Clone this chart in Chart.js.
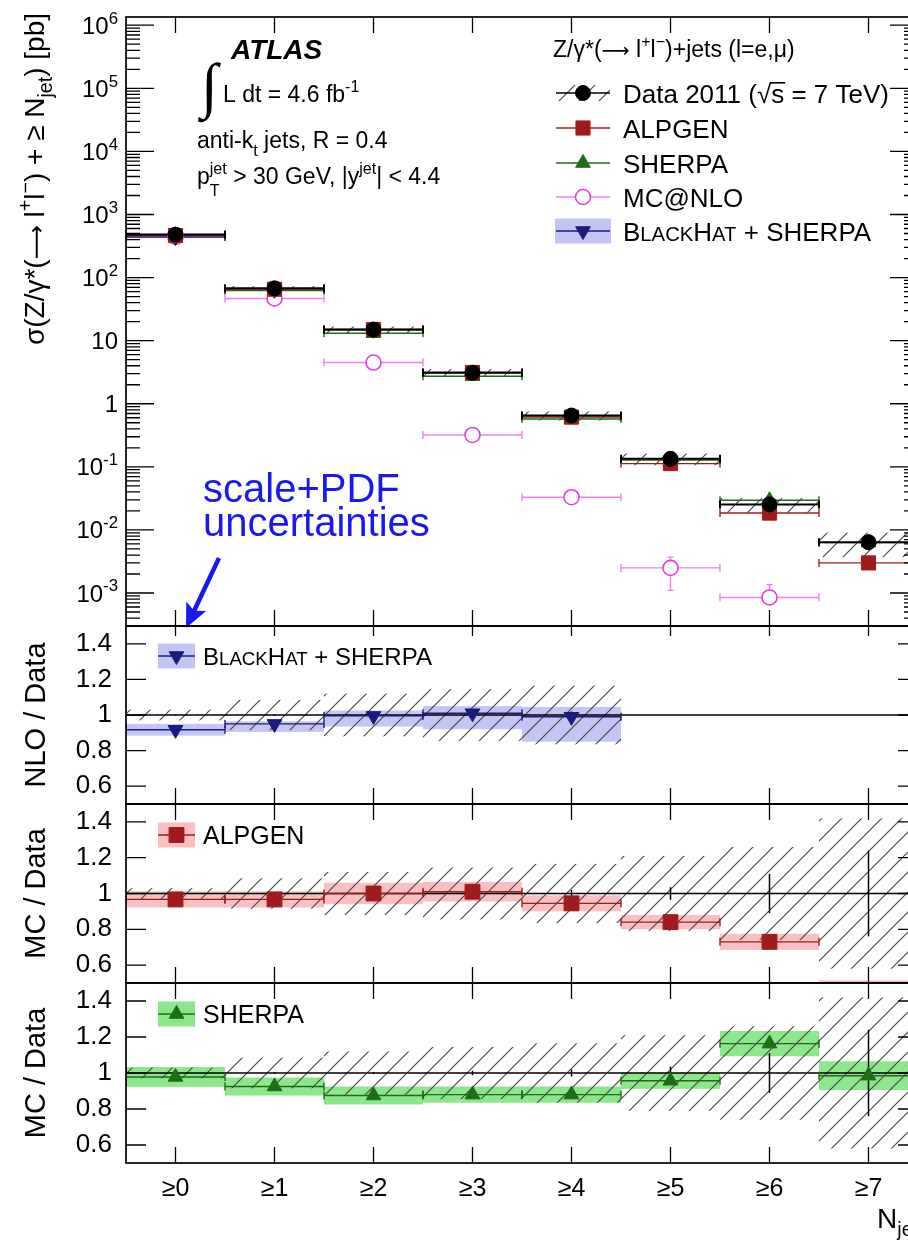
<!DOCTYPE html>
<html>
<head>
<meta charset="utf-8">
<title>Z/γ* + jets inclusive jet multiplicity</title>
<script src="https://cdn.jsdelivr.net/npm/chart.js@4.4.1/dist/chart.umd.min.js"></script>
<style>
  html, body { margin: 0; padding: 0; background: #fff; overflow: hidden; }
  #plot { position: relative; width: 930px; height: 1241px; }
  #plot canvas { position: absolute; left: 0; top: 0; }
</style>
</head>
<body>
<div id="plot">
  <canvas id="xsec" width="930" height="1241"></canvas>
  <canvas id="nlo" width="930" height="1241"></canvas>
  <canvas id="alpgen" width="930" height="1241"></canvas>
  <canvas id="sherpa" width="930" height="1241"></canvas>
</div>
<script>
// ── Jet multiplicity bins ─────────────────────────────────────────────────────
const NJET_LABELS = ['≥0', '≥1', '≥2', '≥3', '≥4', '≥5', '≥6', '≥7'];

// ── σ(Z/γ* + ≥ Njet) in pb ────────────────────────────────────────────────────
const DATA_XS     = [480, 67.5, 15.0, 3.1, 0.65, 0.134, 0.0254, 0.0064];
const DATA_SYST   = [0.03, 0.085, 0.12, 0.145, 0.165, 0.21, 0.26, 0.42];    // relative, hatched
const DATA_STAT   = [0.002, 0.004, 0.006, 0.012, 0.02, 0.035, 0.11, 0.24];  // relative, error bar
const ALPGEN_XS   = [464, 65.3, 15.0, 3.13, 0.614, 0.1126, 0.0185, 0.0030];
const SHERPA_XS   = [469, 62.4, 13.1, 2.73, 0.572, 0.128, 0.0295, 0.0063];
const MCNLO_XS    = [440, 46.6, 4.5, 0.32, 0.033, 0.0025, 0.00085];
const MCNLO_UP    = [0, 0, 0, 0, 0, 0.0012, 0.0005];
const MCNLO_DN    = [0, 0, 0, 0, 0, 0.0014, 0.0001];
const BLACKHAT_XS = [440, 64.1, 14.9, 3.13, 0.644];

// ── Prediction / data ─────────────────────────────────────────────────────────
const BLACKHAT_RATIO = [0.917, 0.95, 0.995, 1.01, 0.99];
const BLACKHAT_UP    = [0.033, 0.015, 0.03, 0.04, 0.055];
const BLACKHAT_DN    = [0.033, 0.045, 0.06, 0.09, 0.14];
const ALPGEN_RATIO   = [0.967, 0.967, 1.0, 1.01, 0.945, 0.84, 0.73, 0.47];
const ALPGEN_BAND    = [0.045, 0.045, 0.06, 0.055, 0.045, 0.04, 0.045, 0.045];
const SHERPA_RATIO   = [0.978, 0.925, 0.875, 0.88, 0.88, 0.957, 1.163, 0.985];
const SHERPA_BAND    = [0.055, 0.05, 0.05, 0.045, 0.045, 0.045, 0.07, 0.08];

// ── Axis ticks ────────────────────────────────────────────────────────────────
const LOG_DECADES = [-3, -2, -1, 0, 1, 2, 3, 4, 5, 6];
const RATIO_TICKS = [0.6, 0.8, 1.0, 1.2, 1.4];

// ── Layout ────────────────────────────────────────────────────────────────────
const W = 930, H = 1241;
const LEFT = 126, RIGHT = 918;
const FONT = '"Liberation Sans", Arial, Helvetica, sans-serif';
const SYMBOL_FONT = '"DejaVu Sans", sans-serif';

const COL = {
  alpgen: '#a01c1c', alpgenBand: 'rgba(238,105,105,0.42)',
  sherpa: '#1d6e16', sherpaBand: 'rgba(70,215,70,0.62)',
  mcnlo: '#e03ee0', mcnloLine: '#ee80ee',
  blackhat: '#1b1b7e', blackhatBand: 'rgba(115,115,230,0.42)',
  hatch: '#4a4a4a', note: '#1818f2',
};

// ── Drawing helpers ───────────────────────────────────────────────────────────
const HATCH = (() => {
  const t = document.createElement('canvas');
  t.width = t.height = 20;
  const c = t.getContext('2d');
  c.strokeStyle = COL.hatch; c.lineWidth = 1.2;
  c.beginPath();
  c.moveTo(-2, 22); c.lineTo(22, -2);
  c.moveTo(-2, 2); c.lineTo(2, -2);
  c.moveTo(18, 22); c.lineTo(22, 18);
  c.stroke();
  return t;
})();

const txt = t => ({ t });
const sup = (t, dy = -0.42) => ({ t, k: 0.7, dy });
const sub = (t, dy = 0.3) => ({ t, k: 0.7, dy });
const arrow = (k = 1) => ({ t: '⟶', k, f: SYMBOL_FONT });

function fontOf(p, size) {
  return `${p.w || ''} ${Math.round(size * (p.k || 1) * 10) / 10}px ${p.f || FONT}`;
}
function partWidth(ctx, p, size) {
  ctx.font = fontOf(p, size);
  let w = ctx.measureText(p.t).width;
  if (p.lo) w = Math.max(w, ctx.measureText(p.lo).width);
  return w;
}
// text runs with super/subscripts, y is the baseline
function drawRich(ctx, parts, x, y, size, align = 'left') {
  const widths = parts.map(p => partWidth(ctx, p, size));
  const total = widths.reduce((s, w) => s + w, 0);
  let cx = align === 'right' ? x - total : align === 'center' ? x - total / 2 : x;
  ctx.textAlign = 'left';
  ctx.textBaseline = 'alphabetic';
  parts.forEach((p, i) => {
    ctx.font = fontOf(p, size);
    ctx.fillText(p.t, cx, y + (p.dy || 0) * size);
    if (p.lo) ctx.fillText(p.lo, cx, y + p.loDy * size);
    cx += widths[i];
  });
  return total;
}

function binEdges(xs, i) {
  return [xs.getPixelForValue(i - 0.5), xs.getPixelForValue(i + 0.5)];
}
function hatchRect(ctx, x0, x1, y0, y1) {
  ctx.save();
  ctx.fillStyle = ctx.createPattern(HATCH, 'repeat');
  ctx.fillRect(x0, Math.min(y0, y1), x1 - x0, Math.abs(y1 - y0));
  ctx.restore();
}
function hBar(ctx, color, lw, x0, x1, y, cap = 4) {
  ctx.save();
  ctx.strokeStyle = color; ctx.lineWidth = lw;
  ctx.beginPath();
  ctx.moveTo(x0, y); ctx.lineTo(x1, y);
  if (cap) {
    ctx.moveTo(x0, y - cap); ctx.lineTo(x0, y + cap);
    ctx.moveTo(x1, y - cap); ctx.lineTo(x1, y + cap);
  }
  ctx.stroke();
  ctx.restore();
}
function vBar(ctx, color, lw, x, y0, y1, cap = 0) {
  ctx.save();
  ctx.strokeStyle = color; ctx.lineWidth = lw;
  ctx.beginPath();
  ctx.moveTo(x, y0); ctx.lineTo(x, y1);
  if (cap) {
    ctx.moveTo(x - cap, y0); ctx.lineTo(x + cap, y0);
    ctx.moveTo(x - cap, y1); ctx.lineTo(x + cap, y1);
  }
  ctx.stroke();
  ctx.restore();
}
function clipArea(ctx, a) {
  ctx.beginPath();
  ctx.rect(a.left, a.top, a.right - a.left, a.bottom - a.top);
  ctx.clip();
}
function marker(ctx, style, color, fill, radius, x, y, rotation = 0, bw = 1) {
  ctx.save();
  ctx.fillStyle = fill; ctx.strokeStyle = color; ctx.lineWidth = bw;
  Chart.helpers.drawPoint(ctx, { pointStyle: style, radius, rotation, borderWidth: bw }, x, y);
  ctx.restore();
}

// frame plus inward ticks on all four sides
function frameAndTicks(chart, o) {
  const { ctx, chartArea: a, scales: { x, y } } = chart;
  ctx.save();
  ctx.strokeStyle = '#000';
  ctx.lineWidth = 1.3;
  ctx.beginPath();
  NJET_LABELS.forEach((_, i) => {
    const px = x.getPixelForValue(i);
    ctx.moveTo(px, a.bottom); ctx.lineTo(px, a.bottom - o.xBottom);
    ctx.moveTo(px, a.top); ctx.lineTo(px, a.top + o.xTop);
  });
  o.major.forEach(v => {
    const py = y.getPixelForValue(v);
    ctx.moveTo(a.left, py); ctx.lineTo(a.left + o.majorLen, py);
    ctx.moveTo(a.right, py); ctx.lineTo(a.right - o.majorLen, py);
  });
  (o.minor || []).forEach(v => {
    const py = y.getPixelForValue(v);
    ctx.moveTo(a.left, py); ctx.lineTo(a.left + o.minorLen, py);
    ctx.moveTo(a.right, py); ctx.lineTo(a.right - o.minorLen, py);
  });
  ctx.stroke();
  ctx.lineWidth = 1.7;
  ctx.strokeRect(a.left, a.top, a.right - a.left, a.bottom - a.top);
  ctx.restore();
}

function rotatedTitle(ctx, parts, x, y, size, align) {
  ctx.save();
  ctx.translate(x, y);
  ctx.rotate(-Math.PI / 2);
  ctx.fillStyle = '#000';
  drawRich(ctx, parts, 0, 0, size, align);
  ctx.restore();
}

// ── Chart factory ─────────────────────────────────────────────────────────────
const pts = vals => vals.map((v, i) => ({ x: i, y: v }));
const ratioPts = vals => pts(vals).filter(p => p.y >= 0.5 && p.y <= 1.5);

function markers(label, data, style, color, radius, extra = {}) {
  return Object.assign({
    label, data, pointStyle: style, pointRadius: radius, pointHoverRadius: radius,
    backgroundColor: color, borderColor: color, pointBorderWidth: 1,
  }, extra);
}

function panelChart(id, top, bottom, yScale, datasets, plugin, showX) {
  return new Chart(document.getElementById(id), {
    type: 'scatter',
    data: { datasets },
    options: {
      responsive: false,
      animation: false,
      events: [],
      layout: {
        padding: { left: yScale.display ? 0 : LEFT, right: W - RIGHT, top, bottom: showX ? 0 : H - bottom },
      },
      plugins: { legend: { display: false }, tooltip: { enabled: false } },
      scales: {
        x: {
          type: 'linear', min: -0.5, max: 7.5, display: showX,
          grid: { display: false }, border: { display: false },
          afterBuildTicks: s => { s.ticks = NJET_LABELS.map((_, i) => ({ value: i })); },
          afterFit: s => { if (showX) s.height = H - bottom; },
          ticks: {
            color: '#000', padding: 3, maxRotation: 0, autoSkip: false,
            font: { family: FONT, size: 25 },
            callback: v => NJET_LABELS[Math.round(v)],
          },
        },
        y: yScale,
      },
    },
    plugins: [plugin],
  });
}

function ratioY() {
  return {
    type: 'linear', min: 0.5, max: 1.5, display: true,
    grid: { display: false }, border: { display: false },
    afterBuildTicks: s => { s.ticks = RATIO_TICKS.map(v => ({ value: v })); },
    afterFit: s => { s.width = LEFT; },
    ticks: { color: '#000', padding: 6, font: { family: FONT, size: 26 }, callback: v => String(+v.toFixed(1)) },
  };
}

// ── Main panel: cross sections ────────────────────────────────────────────────
const logMinor = [];
for (let e = -4; e <= 6; e++) for (let m = 2; m <= 9; m++) {
  const v = m * 10 ** e;
  if (v > 3.2e-4 && v < 1.35e6) logMinor.push(v);
}

const xsecPlugin = {
  id: 'xsecDecor',
  beforeDatasetsDraw(chart) {
    const { ctx, chartArea: a, scales: { x, y } } = chart;
    ctx.save();
    clipArea(ctx, a);
    DATA_XS.forEach((v, i) => {
      const [x0, x1] = binEdges(x, i);
      hatchRect(ctx, x0, x1, y.getPixelForValue(v * (1 + DATA_SYST[i])), y.getPixelForValue(v * (1 - DATA_SYST[i])));
    });
    MCNLO_XS.forEach((v, i) => {
      const [x0, x1] = binEdges(x, i);
      hBar(ctx, COL.mcnloLine, 1.4, x0, x1, y.getPixelForValue(v));
      if (MCNLO_UP[i]) {
        vBar(ctx, COL.mcnloLine, 1.4, x.getPixelForValue(i),
          y.getPixelForValue(v + MCNLO_UP[i]), y.getPixelForValue(v - MCNLO_DN[i]), 3);
      }
    });
    BLACKHAT_XS.forEach((v, i) => { const [x0, x1] = binEdges(x, i); hBar(ctx, COL.blackhat, 1.4, x0, x1, y.getPixelForValue(v)); });
    SHERPA_XS.forEach((v, i) => { const [x0, x1] = binEdges(x, i); hBar(ctx, COL.sherpa, 1.4, x0, x1, y.getPixelForValue(v)); });
    ALPGEN_XS.forEach((v, i) => { const [x0, x1] = binEdges(x, i); hBar(ctx, COL.alpgen, 1.4, x0, x1, y.getPixelForValue(v)); });
    DATA_XS.forEach((v, i) => { const [x0, x1] = binEdges(x, i); hBar(ctx, '#000', 2, x0, x1, y.getPixelForValue(v)); });
    ctx.restore();
  },
  afterDraw(chart) {
    const { ctx, scales: { y } } = chart;
    frameAndTicks(chart, { xTop: 16, xBottom: 16, major: LOG_DECADES.map(e => 10 ** e), majorLen: 28, minor: logMinor, minorLen: 14 });

    ctx.save();
    ctx.fillStyle = '#000';
    // decade labels
    LOG_DECADES.forEach(e => {
      const py = y.getPixelForValue(10 ** e);
      const parts = e === 0 ? [txt('1')] : e === 1 ? [txt('10')] : [txt('10'), sup(String(e))];
      drawRich(ctx, parts, LEFT - 8, py + 8.5, 24, 'right');
    });
    rotatedTitle(ctx, [txt('σ(Z/γ*('), arrow(0.85), txt(' l'), sup('+'), txt('l'), sup('−'), txt(') + ≥ N'), sub('jet'), txt(') [pb]')], 44, 13, 28, 'right');

    // ATLAS block
    ctx.font = `italic bold 28px ${FONT}`;
    ctx.textAlign = 'left'; ctx.textBaseline = 'alphabetic';
    ctx.fillText('ATLAS', 231, 59);
    ctx.font = `60px "Liberation Serif"`;
    const im = ctx.measureText('∫');
    const ih = im.actualBoundingBoxAscent + im.actualBoundingBoxDescent;
    const isz = 60 * 61 / ih;
    ctx.font = `${isz}px "Liberation Serif"`;
    const im2 = ctx.measureText('∫');
    ctx.fillText('∫', 197 + im2.actualBoundingBoxLeft, 62 + im2.actualBoundingBoxAscent);
    drawRich(ctx, [txt('L dt = 4.6 fb'), sup('-1')], 223, 102, 23);
    drawRich(ctx, [txt('anti-k'), sub('t', 0.35), txt(' jets, R = 0.4')], 197, 148, 23);
    drawRich(ctx, [txt('p'), { t: 'jet', k: 0.7, dy: -0.42, lo: 'T', loDy: 0.5 }, txt(' > 30 GeV, |y'), sup('jet'), txt('| < 4.4')], 197, 184, 23);

    // legend
    drawRich(ctx, [txt('Z/γ*('), arrow(0.85), txt(' l'), sup('+'), txt('l'), sup('−'), txt(')+jets (l=e,μ)')], 553, 57, 23);
    const lx0 = 556, lx1 = 610, lxc = 583, tx = 623;
    const rows = [93, 128, 163, 197, 231];
    hatchRect(ctx, lx0, lx1, rows[0] - 8, rows[0] + 8);
    hBar(ctx, '#000', 1.6, lx0, lx1, rows[0], 0);
    marker(ctx, 'circle', '#000', '#000', 7.5, lxc, rows[0]);
    hBar(ctx, COL.alpgen, 1.4, lx0, lx1, rows[1], 0);
    marker(ctx, 'rect', COL.alpgen, COL.alpgen, 10, lxc, rows[1]);
    hBar(ctx, COL.sherpa, 1.4, lx0, lx1, rows[2], 0);
    marker(ctx, 'triangle', COL.sherpa, COL.sherpa, 8.5, lxc, rows[2]);
    hBar(ctx, COL.mcnloLine, 1.4, lx0, lx1, rows[3], 0);
    marker(ctx, 'circle', COL.mcnlo, '#fff', 7.5, lxc, rows[3], 0, 1.6);
    ctx.fillStyle = COL.blackhatBand;
    ctx.fillRect(lx0 - 1, rows[4] - 12.5, lx1 - lx0 + 2, 25);
    hBar(ctx, COL.blackhat, 1.4, lx0, lx1, rows[4], 0);
    marker(ctx, 'triangle', COL.blackhat, COL.blackhat, 8.5, lxc, rows[4], 180);

    ctx.fillStyle = '#000';
    const dataW = drawRich(ctx, [txt('Data 2011 (√')], tx, rows[0] + 9.5, 26);
    ctx.font = `26px ${FONT}`;
    const sW = ctx.measureText('s').width;
    ctx.fillText('s = 7 TeV)', tx + dataW, rows[0] + 9.5);
    ctx.fillRect(tx + dataW - 1, rows[0] - 11, sW + 2, 1.6);
    ctx.fillText('ALPGEN', tx, rows[1] + 9.5);
    ctx.fillText('SHERPA', tx, rows[2] + 9.5);
    ctx.fillText('MC@NLO', tx, rows[3] + 9.5);
    drawRich(ctx, [txt('B'), { t: 'LACK', k: 0.78 }, txt('H'), { t: 'AT', k: 0.78 }, txt(' + SHERPA')], tx, rows[4] + 9.5, 26);

    // theory uncertainty note
    ctx.fillStyle = COL.note;
    ctx.font = `40px ${FONT}`;
    ctx.fillText('scale+PDF', 203, 502);
    ctx.fillText('uncertainties', 203, 536);
    const tip = [186, 628], tail = [219, 558];
    const dx = tip[0] - tail[0], dy = tip[1] - tail[1], len = Math.hypot(dx, dy);
    const ux = dx / len, uy = dy / len;
    const bx = tip[0] - 24 * ux, by = tip[1] - 24 * uy;
    ctx.strokeStyle = COL.note; ctx.lineWidth = 4.5;
    ctx.beginPath(); ctx.moveTo(tail[0], tail[1]); ctx.lineTo(bx + 6 * ux, by + 6 * uy); ctx.stroke();
    ctx.beginPath();
    ctx.moveTo(tip[0], tip[1]);
    ctx.lineTo(bx - 11 * uy, by + 11 * ux);
    ctx.lineTo(bx + 5 * ux, by + 5 * uy);
    ctx.lineTo(bx + 11 * uy, by - 11 * ux);
    ctx.closePath(); ctx.fill();
    ctx.restore();
  },
};

panelChart('xsec', 17, 626,
  { type: 'logarithmic', min: 3.2e-4, max: 1.35e6, display: false },
  [
    markers('Data 2011', pts(DATA_XS), 'circle', '#000', 7.5),
    markers('ALPGEN', pts(ALPGEN_XS), 'rect', COL.alpgen, 10),
    markers('SHERPA', pts(SHERPA_XS), 'triangle', COL.sherpa, 8.5),
    markers('BlackHat + SHERPA', pts(BLACKHAT_XS), 'triangle', COL.blackhat, 8.5, { pointRotation: 180 }),
    markers('MC@NLO', pts(MCNLO_XS), 'circle', COL.mcnlo, 7.5, { backgroundColor: '#fff', pointBorderWidth: 1.6 }),
  ],
  xsecPlugin, false);

// ── Ratio panels ──────────────────────────────────────────────────────────────
function ratioPlugin(id, o) {
  return {
    id,
    beforeDatasetsDraw(chart) {
      const { ctx, chartArea: a, scales: { x, y } } = chart;
      ctx.save();
      clipArea(ctx, a);
      ctx.fillStyle = o.band;
      o.ratio.forEach((r, i) => {
        const [x0, x1] = binEdges(x, i);
        const t = y.getPixelForValue(r + o.up[i]), b = y.getPixelForValue(r - o.dn[i]);
        ctx.fillRect(x0, t, x1 - x0, b - t);
      });
      for (let i = 0; i < o.hatchBins; i++) {
        const [x0, x1] = binEdges(x, i);
        hatchRect(ctx, x0, x1, y.getPixelForValue(1 + DATA_SYST[i]), y.getPixelForValue(1 - DATA_SYST[i]));
      }
      hBar(ctx, '#000', 1.5, a.left, a.right, y.getPixelForValue(1), 0);
      for (let i = 0; i < o.hatchBins; i++) {
        vBar(ctx, '#000', 1.5, x.getPixelForValue(i), y.getPixelForValue(1 + DATA_STAT[i]), y.getPixelForValue(1 - DATA_STAT[i]));
      }
      o.ratio.forEach((r, i) => {
        const [x0, x1] = binEdges(x, i);
        hBar(ctx, o.line, 1.4, x0, x1, y.getPixelForValue(r));
      });
      ctx.restore();
    },
    afterDraw(chart) {
      const { ctx, chartArea: a } = chart;
      frameAndTicks(chart, { xTop: o.xTop, xBottom: 16, major: RATIO_TICKS, majorLen: 20 });
      ctx.save();
      rotatedTitle(ctx, [txt(o.title)], 45, (a.top + a.bottom) / 2, 29, 'center');
      // legend entry
      const ly = o.legendY;
      ctx.fillStyle = o.band;
      ctx.fillRect(158, ly - 12.5, 37, 25);
      hBar(ctx, o.line, 1.4, 158, 195, ly, 0);
      marker(ctx, o.style, o.line, o.line, o.radius, 176.5, ly, o.rotation || 0);
      ctx.fillStyle = '#000';
      drawRich(ctx, o.label, 203, ly + 9, o.labelSize);
      ctx.restore();
    },
  };
}

panelChart('nlo', 626, 804, ratioY(),
  [markers('BlackHat + SHERPA', ratioPts(BLACKHAT_RATIO), 'triangle', COL.blackhat, 8.5, { pointRotation: 180 })],
  ratioPlugin('nloDecor', {
    ratio: BLACKHAT_RATIO, up: BLACKHAT_UP, dn: BLACKHAT_DN, band: COL.blackhatBand, line: COL.blackhat,
    hatchBins: BLACKHAT_RATIO.length, xTop: 10, title: 'NLO / Data',
    legendY: 656, style: 'triangle', rotation: 180, radius: 8.5, labelSize: 24,
    label: [txt('B'), { t: 'LACK', k: 0.78 }, txt('H'), { t: 'AT', k: 0.78 }, txt(' + SHERPA')],
  }), false);

panelChart('alpgen', 804, 983, ratioY(),
  [markers('ALPGEN', ratioPts(ALPGEN_RATIO), 'rect', COL.alpgen, 10.5)],
  ratioPlugin('alpgenDecor', {
    ratio: ALPGEN_RATIO, up: ALPGEN_BAND, dn: ALPGEN_BAND, band: COL.alpgenBand, line: COL.alpgen,
    hatchBins: DATA_XS.length, xTop: 16, title: 'MC / Data',
    legendY: 835, style: 'rect', radius: 10.5, labelSize: 25, label: [txt('ALPGEN')],
  }), false);

panelChart('sherpa', 983, 1163, ratioY(),
  [markers('SHERPA', ratioPts(SHERPA_RATIO), 'triangle', COL.sherpa, 8.5)],
  ratioPlugin('sherpaDecor', {
    ratio: SHERPA_RATIO, up: SHERPA_BAND, dn: SHERPA_BAND, band: COL.sherpaBand, line: COL.sherpa,
    hatchBins: DATA_XS.length, xTop: 16, title: 'MC / Data',
    legendY: 1014, style: 'triangle', radius: 8.5, labelSize: 25, label: [txt('SHERPA')],
  }), true);

// x-axis title, right-aligned on the frame
(() => {
  const ctx = document.getElementById('sherpa').getContext('2d');
  ctx.save();
  ctx.fillStyle = '#000';
  drawRich(ctx, [txt('N'), sub('jet')], RIGHT, 1228, 28, 'right');
  ctx.restore();
})();
</script>
</body>
</html>
